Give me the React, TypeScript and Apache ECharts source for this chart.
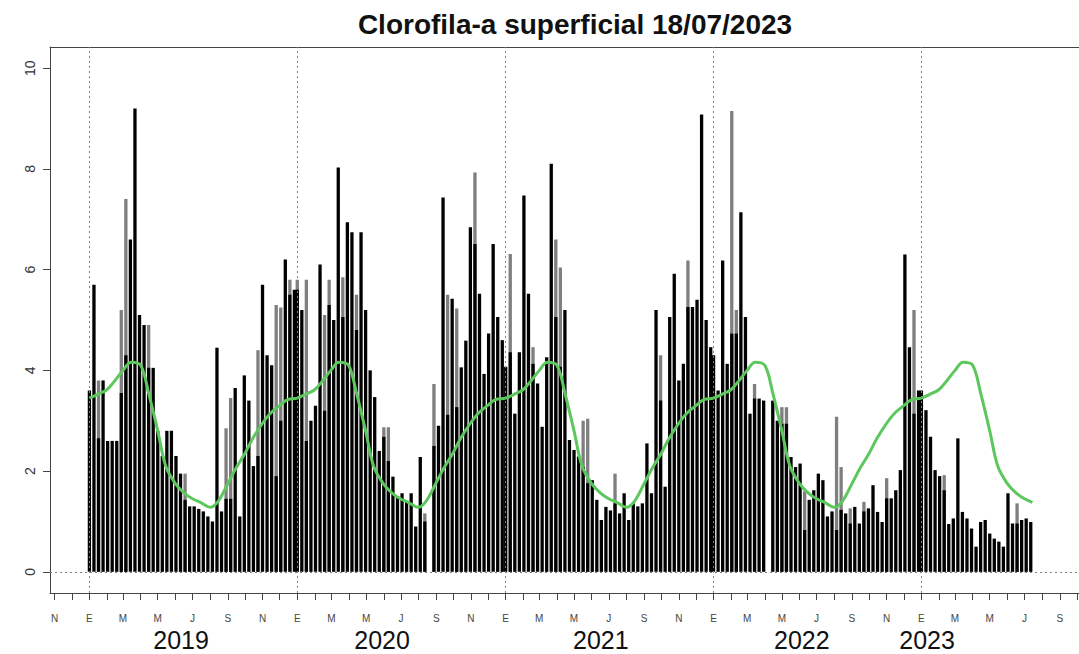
import React, { useEffect, useRef } from "react";
import * as echarts from "echarts";

// ---- DATA ----
const TITLE = "Clorofila-a superficial 18/07/2023";
const YEARS = [2019, 2020, 2021, 2022, 2023];
const COMPOSITE_DAYS = 8; // 8-day composites starting Jan 1 each year

const BLACK_2019 = [3.6, 5.7, 2.65, 3.8, 2.6, 2.6, 2.6, 3.55, 4.3, 6.6, 9.2, 5.1, 4.9, 4.05, 4.05, 2.8, 2.3, 2.8, 2.8, 2.3, 1.95, 1.43, 1.3, 1.3, 1.25, 1.2, 1.1, 1.0, 4.45, 1.2, 1.45, 1.45, 3.65, 1.1, 3.9, 3.4, 2.1, 2.3, 5.7, 4.3, 4.1, 1.9, 3.0, 6.2, 5.5, 5.6];
const GRAY_2019 = [null, null, 3.8, null, null, null, null, 5.2, 7.4, null, null, null, null, 4.9, null, null, null, null, null, null, null, 1.95, null, null, null, null, null, null, null, null, 2.85, 3.45, null, null, null, null, null, 4.4, null, null, null, 5.3, 5.25, null, 5.8, null];

const BLACK_2020 = [5.6, 5.2, 2.6, 3.0, 3.3, 6.1, 3.2, 5.3, 5.0, 8.03, 5.06, 6.94, 6.74, 4.8, 6.74, 5.2, 4.0, 3.47, 2.4, 2.68, 2.2, 1.89, 1.5, 1.56, 1.4, 1.56, 0.9, 2.28, 1.0, null, 2.5, 2.9, 7.43, 3.12, 5.42, 3.27, 4.06, 4.59, 6.84, 6.51, 5.52, 3.93, 4.73, 6.51, 5.06, 4.6];
const GRAY_2020 = [5.8, null, 5.8, null, null, null, 5.1, 5.8, null, null, 5.85, null, null, 5.5, null, null, null, null, null, 2.87, 2.87, null, null, null, null, null, null, null, 1.16, null, 3.73, null, null, 5.5, null, 5.23, null, null, null, 7.93, null, null, null, null, null, null];

const BLACK_2021 = [4.07, 4.36, 3.14, 4.36, 7.47, 5.52, 4.13, 3.74, 2.88, 4.26, 8.1, 5.06, 4.07, 5.2, 2.62, 2.42, 2.29, 2.08, 1.76, 1.82, 1.43, 1.03, 1.29, 1.22, 1.36, 1.16, 1.56, 1.03, 1.36, 1.3, 1.36, 2.55, 1.56, 5.2, 3.4, 1.69, 5.06, 5.92, 3.8, 4.13, 5.26, 5.26, 5.4, 9.08, 5.0, 4.46];
const GRAY_2021 = [null, 6.31, null, null, null, null, 4.46, null, null, null, null, 6.6, 6.04, null, null, null, null, 3.0, 3.04, null, null, null, null, null, 1.95, null, null, null, null, null, null, null, null, null, 4.3, null, null, null, null, null, 6.18, null, null, null, null, null];

const BLACK_2022 = [4.3, 3.6, 6.18, 4.13, 4.73, 4.73, 7.14, 5.06, 3.14, 3.44, 3.44, 3.4, null, 3.4, 3.0, 2.94, 2.94, 2.28, 2.08, 2.15, 0.83, 1.43, 1.62, 1.95, 1.82, 1.1, 1.2, 0.83, 1.23, 1.16, 0.96, 1.29, 0.96, 1.2, 1.26, 1.72, 1.19, 0.99, 1.46, 1.46, 1.62, 2.02, 6.3, 4.46, 3.14, 3.6];
const GRAY_2022 = [null, null, null, null, 9.15, 5.2, null, null, null, 3.73, null, null, null, null, null, 3.27, 3.27, null, null, null, 1.6, null, null, null, null, null, null, 3.08, 2.08, null, 1.26, null, null, 1.39, null, null, null, null, 1.86, null, null, null, null, null, 5.2, null];

const BLACK_2023 = [3.6, 3.21, 2.68, 2.02, 1.9, 1.62, 0.95, 1.06, 2.65, 1.19, 1.06, 0.86, 0.5, 0.99, 1.03, 0.76, 0.66, 0.6, 0.5, 1.56, 0.96, 0.96, 1.03, 1.06, 0.99];
const GRAY_2023 = [null, null, null, null, null, 1.92, null, null, null, null, null, null, null, null, null, null, null, null, null, null, null, 1.36, null, null, null];

const BLACK_BY_YEAR = [BLACK_2019, BLACK_2020, BLACK_2021, BLACK_2022, BLACK_2023];
const GRAY_BY_YEAR = [GRAY_2019, GRAY_2020, GRAY_2021, GRAY_2022, GRAY_2023];

// Climatology (day of year -> value), repeated every year
const CLIM_DOY = [1, 15, 32, 46, 60, 74, 91, 105, 121, 135, 152, 166, 182, 196, 213, 227, 244, 258, 274, 288, 305, 319, 335, 349];
const CLIM_VAL = [3.45, 3.52, 3.62, 3.8, 4.0, 4.16, 4.1, 3.55, 2.8, 2.1, 1.75, 1.58, 1.45, 1.38, 1.28, 1.4, 1.75, 2.05, 2.35, 2.65, 2.95, 3.15, 3.3, 3.42];
const CLIM_LAST_DOY_2023 = 196;

const Y_TICKS = [0, 2, 4, 6, 8, 10];
const MONTH_INITIALS = ["E", "F", "M", "A", "M", "J", "J", "A", "S", "O", "N", "D"];
const YEAR_LABELS = ["2019", "2020", "2021", "2022", "2023"];
const YEAR_LABEL_DATES: [number, number, number][] = [
  [2019, 5, 11],
  [2020, 4, 29],
  [2021, 5, 17],
  [2022, 5, 5],
  [2023, 0, 11],
];
const AXIS_START: [number, number, number] = [2018, 9, 23];

// ---- helpers ----
const ORIGIN = Date.UTC(2019, 0, 1);
const dayOf = (y: number, m: number, d: number) => (Date.UTC(y, m, d) - ORIGIN) / 86400000;

const X_MIN = dayOf(...AXIS_START) + 0.8;
const PX_PER_DAY = 832 / 1461;
const X_MAX = X_MIN + 1029 / PX_PER_DAY;

const blackData: any[] = [];
const grayData: any[] = [];
YEARS.forEach((y, yi) => {
  const start = dayOf(y, 0, 1);
  BLACK_BY_YEAR[yi].forEach((v, i) => {
    if (v != null) blackData.push([start + i * COMPOSITE_DAYS, v]);
  });
  GRAY_BY_YEAR[yi].forEach((v, i) => {
    if (v != null) grayData.push([start + i * COMPOSITE_DAYS, v]);
  });
});

const climData: any[] = [];
YEARS.forEach((y) => {
  const start = dayOf(y, 0, 1);
  CLIM_DOY.forEach((d, k) => {
    if (y === 2023 && d > CLIM_LAST_DOY_2023) return;
    climData.push([start + d - 1, CLIM_VAL[k]]);
  });
});

const monthTicks: number[] = [];
const monthLabelDays: number[] = [];
const letterByDay: Record<number, string> = {};
for (let y = 2018; y <= 2023; y++) {
  for (let m = 0; m < 12; m++) {
    if (y === 2018 && m < 10) continue;
    if (y === 2023 && m > 9) continue;
    const d = dayOf(y, m, 1);
    monthTicks.push(d);
    if (m % 2 === 0) {
      monthLabelDays.push(d);
      letterByDay[Math.round(d)] = MONTH_INITIALS[m];
    }
  }
}
const yearLabelDays = YEAR_LABEL_DATES.map((t) => dayOf(t[0], t[1], t[2]));
const yearByDay: Record<number, string> = {};
yearLabelDays.forEach((d, i) => (yearByDay[Math.round(d)] = YEAR_LABELS[i]));
const janLines = YEARS.map((y) => ({ xAxis: dayOf(y, 0, 1) }));

const FONT = "Liberation Sans, Arial, sans-serif";

export default function App() {
  const ref = useRef<HTMLDivElement>(null);
  useEffect(() => {
    if (!ref.current) return;
    const chart = echarts.init(ref.current, null, { renderer: "svg" });
    chart.setOption({
      animation: false,
      backgroundColor: "#ffffff",
      title: {
        text: TITLE,
        left: 570,
        top: 5,
        textAlign: "center",
        textStyle: { fontFamily: FONT, fontWeight: "bold", fontSize: 28, color: "#111" },
      },
      grid: { left: 50, right: 0, top: 47, bottom: 61 },
      xAxis: [
        {
          type: "value",
          min: X_MIN,
          max: X_MAX,
          position: "bottom",
          axisLine: { show: true, onZero: false, lineStyle: { color: "#444", width: 1 } },
          axisTick: { show: true, customValues: monthTicks, length: 7, lineStyle: { color: "#444" } },
          axisLabel: {
            show: true,
            customValues: monthLabelDays,
            formatter: (v: number) => letterByDay[Math.round(v)] || "",
            fontFamily: FONT,
            fontSize: 10,
            color: "#444",
            margin: 20,
          },
          splitLine: { show: false },
        },
        {
          type: "value",
          min: X_MIN,
          max: X_MAX,
          position: "bottom",
          offset: 0,
          axisLine: { show: false },
          axisTick: { show: false },
          axisLabel: {
            show: true,
            customValues: yearLabelDays,
            formatter: (v: number) => yearByDay[Math.round(v)] || "",
            fontFamily: FONT,
            fontSize: 25,
            color: "#111",
            margin: 34,
          },
          splitLine: { show: false },
        },
        {
          type: "value",
          min: X_MIN,
          max: X_MAX,
          position: "top",
          axisLine: { show: true, onZero: false, lineStyle: { color: "#444", width: 1 } },
          axisTick: { show: false },
          axisLabel: { show: false },
          splitLine: { show: false },
        },
      ],
      yAxis: {
        type: "value",
        min: -0.42,
        max: 10.42,
        axisLine: { show: true, onZero: false, lineStyle: { color: "#444", width: 1 } },
        axisTick: { show: true, customValues: Y_TICKS, length: 7, lineStyle: { color: "#444" } },
        axisLabel: {
          show: true,
          customValues: Y_TICKS,
          rotate: 90,
          fontFamily: FONT,
          fontSize: 14,
          color: "#333",
          margin: 13,
        },
        splitLine: { show: false },
      },
      series: [
        {
          name: "gray",
          type: "bar",
          xAxisIndex: 0,
          data: grayData,
          barWidth: 3.3,
          barGap: "-100%",
          itemStyle: { color: "#7f7f7f" },
          silent: true,
        },
        {
          name: "black",
          type: "bar",
          xAxisIndex: 0,
          data: blackData,
          barWidth: 3.3,
          barGap: "-100%",
          itemStyle: { color: "#000000" },
          silent: true,
          markLine: {
            silent: true,
            symbol: ["none", "none"],
            label: { show: false },
            lineStyle: { color: "#808080", type: [2, 3], width: 1 },
            data: [...janLines, { yAxis: 0 }],
          },
        },
        {
          name: "clim",
          type: "line",
          xAxisIndex: 0,
          data: climData,
          smooth: 0.35,
          showSymbol: false,
          lineStyle: { color: "#5cc75c", width: 3 },
          z: 4,
          silent: true,
        },
      ],
    });
    return () => chart.dispose();
  }, []);
  return (
    <div
      ref={ref}
      style={{ position: "fixed", left: 0, top: 0, width: 1079, height: 654, background: "#fff" }}
    />
  );
}
